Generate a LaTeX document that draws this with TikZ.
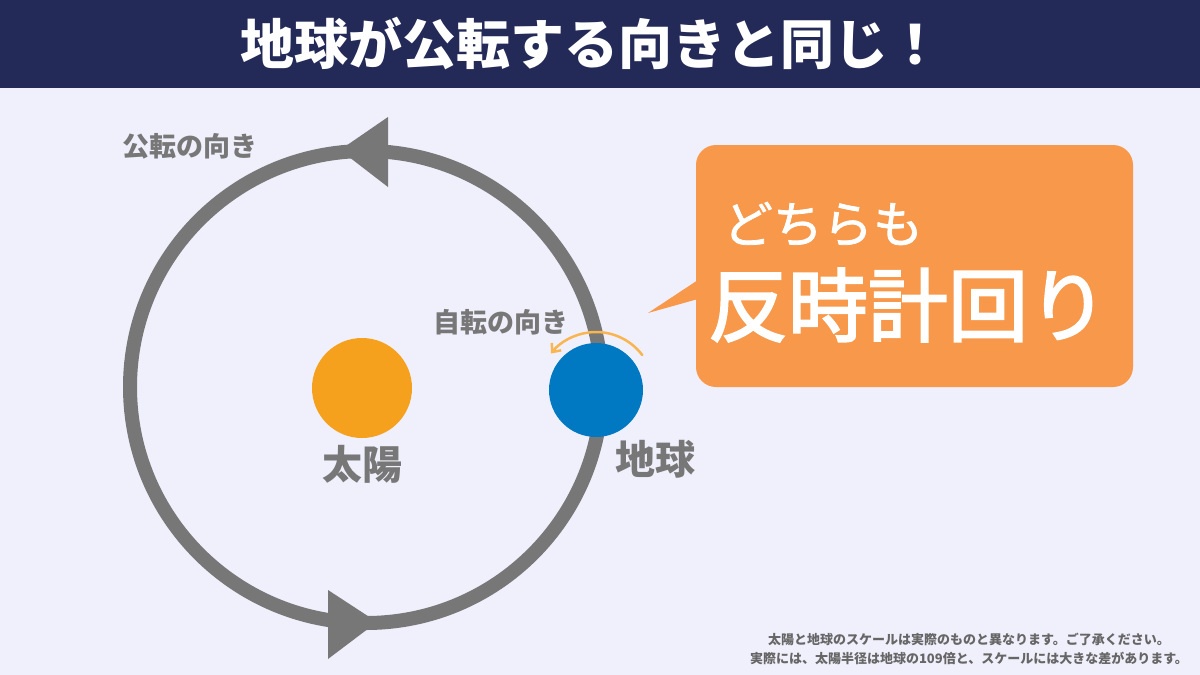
\documentclass[tikz,border=0pt]{standalone}
\usepackage{fontspec}
\setmainfont{Noto Sans CJK JP}
\newfontfamily\jpmed{Noto Sans CJK JP}[FakeBold=2.5]
\newfontfamily\jpsemi{Noto Sans CJK JP}[FakeBold=1.5]
\usetikzlibrary{arrows.meta}
\definecolor{bgc}{HTML}{F0F0FC}
\definecolor{titlec}{HTML}{232A58}
\definecolor{grayc}{HTML}{777777}
\definecolor{notec}{HTML}{666666}
\definecolor{sunc}{HTML}{F6A11E}
\definecolor{earthc}{HTML}{0079C2}
\definecolor{calloutc}{HTML}{F7984A}
\definecolor{rotc}{HTML}{F8B550}
\tikzset{
  lbl/.style={text=grayc, font=\bfseries\fontsize{27}{30}\selectfont, inner sep=0pt},
  biglbl/.style={text=grayc, font=\bfseries\fontsize{40}{44}\selectfont, inner sep=0pt},
  orbit/.style={draw=grayc, line width=14pt},
  orbithead/.style={fill=grayc, draw=none},
  body/.style={circle, inner sep=0pt, draw=none},
}
\begin{document}
\begin{tikzpicture}[x=1pt,y=-1pt]
\useasboundingbox (0,0) rectangle (1200,675);
\fill[bgc] (0,0) rectangle (1200,675);
% title bar
\fill[titlec] (0,0) rectangle (1200,88);
\node[text=white, font=\bfseries\fontsize{54}{60}\selectfont, inner sep=0pt] (title) at (591,44) {地球が公転する向きと同じ！};
% orbit
\coordinate (oc) at (366,387);
\draw[orbit] (oc) circle[radius=236];
\fill[orbithead] (340,150) -- (388,117) -- (388,187) -- cycle;
\fill[orbithead] (377,622) -- (328,590) -- (328,659) -- cycle;
\node[lbl, anchor=center] (revlbl) at (190,146) {公転の向き};
% sun
\node[body, fill=sunc, minimum size=100pt] (sun) at (362,388) {};
\node[biglbl] (sunlbl) at (362,464) {太陽};
% earth
\node[body, fill=earthc, minimum size=94pt] (earth) at (596,390) {};
\node[biglbl] (earthlbl) at (655,459) {地球};
\node[lbl] (rotlbl) at (501,322) {自転の向き};
\draw[rotc, line width=2.5pt, line cap=round, -{Straight Barb[length=7pt,width=12pt,line width=2.5pt]}]
  ([shift={(-37:58)}]earth.center) arc[start angle=-37, end angle=-141, radius=58];
% callout
\fill[calloutc, rounded corners=20pt] (696,145) rectangle (1133,387);
\fill[calloutc] (698,280) -- (648,313) -- (698,299) -- cycle;
\node[text=white, font=\jpsemi\fontsize{50}{56}\selectfont, inner sep=0pt] (both) at (823,224) {どちらも};
\node[text=white, font=\jpmed\fontsize{80}{88}\selectfont, inner sep=0pt] (ccw) at (908,305) {反時計回り};
% footnote
\node[text=notec, font=\bfseries\fontsize{13}{18.5}\selectfont, align=center, inner sep=0pt] (note) at (969,649)
  {太陽と地球のスケールは実際のものと異なります。ご了承ください。\\実際には、太陽半径は地球の109倍と、スケールには大きな差があります。};
\end{tikzpicture}
\end{document}
